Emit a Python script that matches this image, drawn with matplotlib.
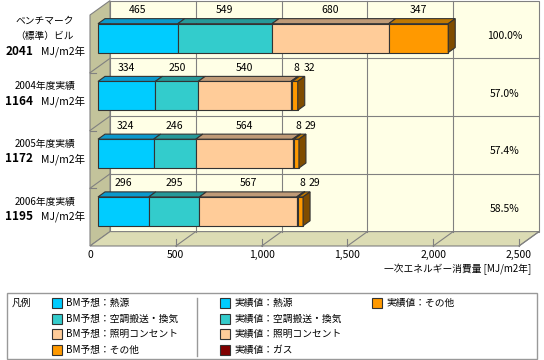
import numpy as np
import matplotlib
matplotlib.use("Agg")
import matplotlib.pyplot as plt
from matplotlib.patches import Polygon, Rectangle
from matplotlib.transforms import IdentityTransform
from matplotlib.lines import Line2D

plt.rcParams['font.family'] = ['Noto Sans CJK JP', 'DejaVu Sans']

# ---------------- data ----------------
row_names = [["ベンチマーク", "（標準）ビル"], ["2004年度実績"], ["2005年度実績"], ["2006年度実績"]]
row_totals = ["2041", "1164", "1172", "1195"]
row_unit = "MJ/m2年"
row_percent = ["100.0%", "57.0%", "57.4%", "58.5%"]

heat = [465, 334, 324, 296]
hvac = [549, 250, 246, 295]
light = [680, 540, 564, 567]
gas = [0, 8, 8, 8]
other = [347, 32, 29, 29]

x_ticks = [0, 500, 1000, 1500, 2000, 2500]
x_tick_labels = ["0", "500", "1,000", "1,500", "2,000", "2,500"]
x_title = "一次エネルギー消費量 [MJ/m2年]"

legend_title = "凡例"
legend_labels = [
    ["BM予想：熱源", "BM予想：空調搬送・換気", "BM予想：照明コンセント", "BM予想：その他"],
    ["実績値：熱源", "実績値：空調搬送・換気", "実績値：照明コンセント", "実績値：ガス"],
    ["実績値：その他"],
]

# ---------------- style ----------------
C_HEAT = ("#00CCFF", "#0A99CC")
C_HVAC = ("#33CCCC", "#269999")
C_LIGHT = ("#FFCC99", "#BF9A77")
C_GAS = ("#800000", "#5A0000")
C_OTHER = ("#FF9900", "#C07800", "#7F4C00")
legend_colors = [
    [C_HEAT[0], C_HVAC[0], C_LIGHT[0], C_OTHER[0]],
    [C_HEAT[0], C_HVAC[0], C_LIGHT[0], C_GAS[0]],
    [C_OTHER[0]],
]
GRID = "#808080"
EDGE = "#333333"
FS = 7
FS_NUM = 7.5

W, H = 544, 360
fig = plt.figure(figsize=(W / 100, H / 100), dpi=100)
fig.patch.set_facecolor("white")
ax = fig.add_axes([90 / W, (H - 246) / H, 429 / W, 231 / H])
ax.set_xlim(x_ticks[0], x_ticks[-1])
ax.set_ylim(len(heat) - 0.5, -0.5)
ax.axis("off")

DEPTH = 20
SLOPE = 0.72
BAR_D0, BAR_D1 = 8, 15
BAR_H = 0.5


def P(x, y, d=0.0):
    px, py = ax.transData.transform((x, y))
    return (px + d, py + d * SLOPE)


def poly(pts, fc, ec=EDGE, lw=0.8, z=1):
    p = Polygon(pts, closed=True, facecolor=fc, edgecolor=ec, linewidth=lw,
                transform=IdentityTransform(), clip_on=False, zorder=z)
    ax.add_artist(p)


def line(pts, color=GRID, lw=0.8, z=1.5):
    xs, ys = zip(*pts)
    ax.add_artist(Line2D(xs, ys, color=color, lw=lw, transform=IdentityTransform(),
                         clip_on=False, zorder=z))


def txt(x, y, s, **kw):
    kw.setdefault("fontsize", FS)
    ax.text(x, y, s, transform=IdentityTransform(), clip_on=False, zorder=10, **kw)


x0, x1 = x_ticks[0], x_ticks[-1]
ytop, ybot = -0.5, len(heat) - 0.5

# walls
poly([P(x0, ytop, DEPTH), P(x1, ytop, DEPTH), P(x1, ybot, DEPTH), P(x0, ybot, DEPTH)], "#FFFFE6", GRID, z=0)
poly([P(x0, ytop, 0), P(x0, ytop, DEPTH), P(x0, ybot, DEPTH), P(x0, ybot, 0)], "#C3C39B", GRID, z=0)
poly([P(x0, ybot, 0), P(x1, ybot, 0), P(x1, ybot, DEPTH), P(x0, ybot, DEPTH)], "#DCDCB4", GRID, z=0)

for t in x_ticks[1:-1]:
    line([P(t, ytop, DEPTH), P(t, ybot, DEPTH)])
for t in x_ticks[1:]:
    a = P(t, ybot, 0)
    line([a, P(t, ybot, DEPTH)])
    line([a, (a[0], a[1] + 7)])
for b in np.arange(0.5, len(heat) - 0.5, 1.0):
    a = P(x0, b, 0)
    line([P(x0, b, DEPTH), P(x1, b, DEPTH)])
    line([a, P(x0, b, DEPTH)])
    line([a, (a[0] + 6, a[1])])

# bars
series = [(heat, C_HEAT), (hvac, C_HVAC), (light, C_LIGHT), (gas, C_GAS), (other, C_OTHER)]
for i in range(len(heat)):
    left = 0
    segs = [(s[i], c, k) for k, (s, c) in enumerate(series) if s[i] > 0]
    yt, yb = i - BAR_H / 2, i + BAR_H / 2
    for j, (v, c, k) in enumerate(segs):
        r = left + v
        poly([P(left, yt, BAR_D0), P(r, yt, BAR_D0), P(r, yb, BAR_D0), P(left, yb, BAR_D0)], c[0], z=3)
        poly([P(left, yt, BAR_D0), P(r, yt, BAR_D0), P(r, yt, BAR_D1), P(left, yt, BAR_D1)], c[1], z=3)
        if j == len(segs) - 1:
            side = c[2] if len(c) > 2 else c[1]
            poly([P(r, yt, BAR_D0), P(r, yt, BAR_D1), P(r, yb, BAR_D1), P(r, yb, BAR_D0)], side, z=3)
        cx, cy = P((left + r) / 2, yt, BAR_D0)
        if v < 100:
            cx += 5 if k == 3 else 14
        txt(cx, cy + 13.5, f"{v}", ha="center", va="center", fontsize=FS_NUM)
        left = r

    # row labels
    _, ry = P(0, i, 0)
    ry += 8
    lines = row_names[i]
    n = len(lines) + 1
    step = 15.5 if n == 3 else 15
    ys = [ry + step * ((n - 1) / 2 - k) for k in range(n)]
    for k, s in enumerate(lines):
        txt(45, ys[k], s, ha="center", va="center")
    txt(33, ys[-1], row_totals[i], ha="right", va="center", fontweight="bold", fontsize=8.5)
    txt(41, ys[-1], row_unit, ha="left", va="center", fontsize=7.5)
    # percent
    txt(505, ry, row_percent[i], ha="center", va="center", fontsize=FS_NUM)

# x tick labels
for t, s in zip(x_ticks, x_tick_labels):
    px, py = P(t, ybot, 0)
    txt(px, py - 9, s, ha="center", va="center", fontsize=FS_NUM)
txt(531, H - 269, x_title, ha="right", va="center")

# legend
fig.add_artist(Rectangle((7 / W, 1 / H), 530 / W, 66 / H, transform=fig.transFigure,
                         facecolor="white", edgecolor="#999999", lw=1))
fig.text(12 / W, (H - 303) / H, legend_title, fontsize=FS, va="center", ha="left")
fig.add_artist(Line2D([197 / W, 197 / W], [4 / H, 62 / H], transform=fig.transFigure,
                      color="#999999", lw=1))
col_sq = [52, 220, 372]
row_y = [303, 319, 334, 350]
for c, (labs, cols) in enumerate(zip(legend_labels, legend_colors)):
    for r, (lab, colr) in enumerate(zip(labs, cols)):
        yy = H - row_y[r]
        fig.add_artist(Rectangle((col_sq[c] / W, (yy - 5) / H), 10 / W, 10 / H,
                                 transform=fig.transFigure, facecolor=colr,
                                 edgecolor=EDGE, lw=0.8))
        fig.text((col_sq[c] + 14) / W, yy / H, lab, fontsize=FS, va="center", ha="left")

fig.savefig("out.png", dpi=100)
